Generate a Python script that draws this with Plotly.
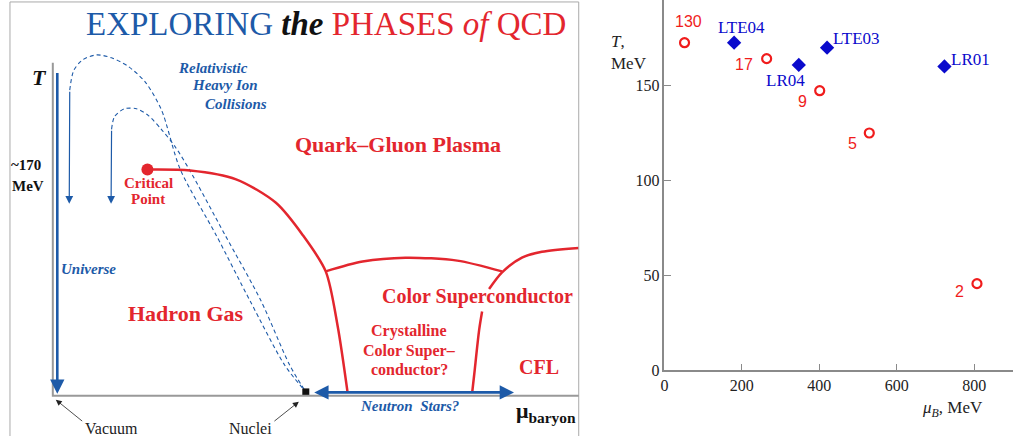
import plotly.graph_objects as go

# ---- right panel data ----
fo_labels = ['130', '17', '9', '5', '2']
fo_mu = [52, 264, 401, 529, 807]
fo_T = [172.7, 164.3, 147.4, 125.1, 45.7]

lat_labels = ['LTE04', 'LR04', 'LTE03', 'LR01']
lat_mu = [180, 347, 420, 723]
lat_T = [172.7, 161.0, 170.1, 160.2]

# ---- left panel: schematic drawn in pixel-like coordinates ----
outer_x = [66, 70, 79, 93, 108, 125, 142, 158, 177, 213, 247, 282, 303]
outer_y = [92, 72, 61, 56, 59, 68, 84, 112, 173, 240, 307, 373, 400]
inner_x = [108, 111, 121, 133, 145, 158, 172, 186, 222, 258, 287, 303]
inner_y = [132, 119, 111, 111, 118, 132, 150, 173, 240, 307, 373, 400]

qgp_x = [144, 187, 233, 273, 300, 323, 335, 345]
qgp_y = [173, 174, 183, 207, 240, 277, 333, 401]
csc_x = [323, 360, 403, 455, 500]
csc_y = [277, 267, 263, 266, 277]
cfl_up_x = [487, 500, 520, 540, 577]
cfl_up_y = [295, 278, 263, 257, 253]
cfl_lo_x = [480, 477, 472, 470]
cfl_lo_y = [318, 337, 383, 401]

crit_pt = (144, 173)
nuclei_pt = (303, 400)

SERIF = 'Liberation Serif'
SANS = 'Liberation Sans'
BLUE_D = '#1d5aa8'
RED_D = '#e3262e'
RED_P = '#f01c1c'
BLUE_P = '#0a0acc'

W, H = 1013, 445

def px(sx):
    return sx / W

def py(sy):
    return 1 - sy / H

fig = go.Figure()

# left schematic curves
for xs, ys in [(outer_x, outer_y), (inner_x, inner_y)]:
    fig.add_trace(go.Scatter(x=xs, y=ys, mode='lines', xaxis='x2', yaxis='y2',
                             line=dict(color=BLUE_D, width=1.1, dash='4px,3px', shape='spline', smoothing=0.8)))
for xs, ys in [(qgp_x, qgp_y), (csc_x, csc_y), (cfl_up_x, cfl_up_y), (cfl_lo_x, cfl_lo_y)]:
    fig.add_trace(go.Scatter(x=xs, y=ys, mode='lines', xaxis='x2', yaxis='y2',
                             line=dict(color=RED_D, width=2.5, shape='spline', smoothing=0.8)))
fig.add_trace(go.Scatter(x=[crit_pt[0]], y=[crit_pt[1]], mode='markers', xaxis='x2', yaxis='y2',
                         marker=dict(color=RED_D, size=12)))
fig.add_trace(go.Scatter(x=[nuclei_pt[0]], y=[nuclei_pt[1]], mode='markers', xaxis='x2', yaxis='y2',
                         marker=dict(color='#111', size=7, symbol='square')))

# right panel points
fig.add_trace(go.Scatter(x=fo_mu, y=fo_T, mode='markers',
                         marker=dict(symbol='circle-open', size=9, color=RED_P, line=dict(width=2.2, color=RED_P))))
fig.add_trace(go.Scatter(x=lat_mu, y=lat_T, mode='markers',
                         marker=dict(symbol='diamond', size=11, color=BLUE_P)))

anns = []
fo_shift = [(4, 21), (-23, -6), (-17, -11), (-17, -10), (-17, -8)]
for lab, x, y, (dx, dy) in zip(fo_labels, fo_mu, fo_T, fo_shift):
    anns.append(dict(x=x, y=y, xref='x', yref='y', text=lab, showarrow=False, xshift=dx, yshift=dy,
                     font=dict(family=SANS, size=16, color=RED_P)))
lat_shift = [(7, 15), (-13, -16), (29, 9), (26, 7)]
for lab, x, y, (dx, dy) in zip(lat_labels, lat_mu, lat_T, lat_shift):
    anns.append(dict(x=x, y=y, xref='x', yref='y', text=lab, showarrow=False, xshift=dx, yshift=dy,
                     font=dict(family=SERIF, size=17, color=BLUE_P)))

anns.append(dict(x=px(607), y=py(54), xref='paper', yref='paper', xanchor='left', yanchor='middle',
                 align='left', text='<i>T</i>,<br>MeV', showarrow=False,
                 font=dict(family=SERIF, size=17, color='#222')))
anns.append(dict(x=px(952), y=py(417), xref='paper', yref='paper', xanchor='center', yanchor='middle',
                 text='<i>μ</i><sub><i>B</i></sub>, MeV', showarrow=False,
                 font=dict(family=SERIF, size=17, color='#222')))

# left panel texts
def txt(x, y, text, size, color, bold=True, italic=False, family=SERIF):
    t = text
    if italic:
        t = '<i>' + t + '</i>'
    if bold:
        t = '<b>' + t + '</b>'
    anns.append(dict(x=x, y=y, xref='x2', yref='y2', text=t, showarrow=False,
                     font=dict(family=family, size=size, color=color)))

title = ("<span style='color:%s'>EXPLORING</span> <b><i>the</i></b> "
         "<span style='color:%s'>PHASES <i>of</i> QCD</span>" % (BLUE_D, RED_D))
anns.append(dict(x=323, y=25, xref='x2', yref='y2', text=title, showarrow=False,
                 font=dict(family=SERIF, size=33, color='#111')))
txt(36, 79, 'T', 22, '#111', italic=True)
txt(22, 168, '~170', 15, '#111')
txt(24, 190, 'MeV', 15, '#111')
txt(210, 69, 'Relativistic', 15, BLUE_D, italic=True)
txt(222, 87, 'Heavy Ion', 15, BLUE_D, italic=True)
txt(233, 106, 'Collisions', 15, BLUE_D, italic=True)
txt(145, 187, 'Critical', 15, RED_D)
txt(145, 203, 'Point', 15, RED_D)
txt(396, 147, 'Quark–Gluon Plasma', 22, RED_D)
txt(85, 275, 'Universe', 15, BLUE_D, italic=True)
txt(183, 320, 'Hadron Gas', 22, RED_D)
txt(475, 303, 'Color Superconductor', 20, RED_D)
txt(407, 338, 'Crystalline', 16, RED_D)
txt(407, 358, 'Color Super–', 16, RED_D)
txt(407, 377, 'conductor?', 16, RED_D)
txt(537, 375, 'CFL', 20, RED_D)
txt(407, 414, 'Neutron  Stars?', 15, BLUE_D, italic=True)
txt(108, 437, 'Vacuum', 16, '#222', bold=False)
txt(247, 437, 'Nuclei', 16, '#222', bold=False)
anns.append(dict(x=544, y=421, xref='x2', yref='y2', text='<b>μ<sub>baryon</sub></b>', showarrow=False,
                 font=dict(family=SERIF, size=22, color='#111')))

# arrows in the schematic
def arrow(x0, y0, x1, y1, color, width, head=2, size=1.0, both=False):
    d = dict(x=x1, y=y1, ax=x0, ay=y0, xref='x2', yref='y2', axref='x2', ayref='y2',
             text='', showarrow=True, arrowcolor=color, arrowwidth=width, arrowhead=head, arrowsize=size)
    if both:
        d.update(arrowside='end+start', startarrowhead=head, startarrowsize=size)
    anns.append(d)

arrow(53.5, 73, 53.5, 402, BLUE_D, 2.6, size=1.1)
arrow(66, 92, 65.5, 208, BLUE_D, 1.2, size=1.3)
arrow(108, 132, 107.5, 208, BLUE_D, 1.2, size=1.3)
arrow(310, 400.5, 512, 400.5, BLUE_D, 2.6, size=1.1, both=True)
arrow(80, 431, 52, 408, '#222', 0.8, head=2, size=1.5)
arrow(270, 431, 296, 410, '#222', 0.8, head=2, size=1.5)

shapes = [
    dict(type='path', xref='x2', yref='y2', path='M6,446 L6,2 L577,2 L577,446',
         line=dict(color='#aaaaaa', width=1)),
    dict(type='path', xref='x2', yref='y2', path='M49,64 L49,404 L577,404',
         line=dict(color='#999999', width=2)),
]

T_TOP = 150 + 87.7 / 1.94

fig.update_layout(
    width=W, height=H,
    margin=dict(l=0, r=0, t=0, b=0),
    paper_bgcolor='white', plot_bgcolor='white',
    showlegend=False,
    annotations=anns,
    shapes=shapes,
    xaxis=dict(domain=[px(663), 1], range=[0, 900], showgrid=False, zeroline=False,
               showline=True, linecolor='#8a8a8a', linewidth=1.5,
               ticks='inside', ticklen=7, tickcolor='#8a8a8a', dtick=200,
               tickfont=dict(family=SERIF, size=16, color='#222')),
    yaxis=dict(domain=[py(378), 1], range=[0, T_TOP], showgrid=False, zeroline=False,
               showline=True, linecolor='#8a8a8a', linewidth=1.5,
               ticks='inside', ticklen=7, tickcolor='#8a8a8a', dtick=50,
               tickfont=dict(family=SERIF, size=16, color='#222')),
    xaxis2=dict(domain=[0, px(600)], range=[0, 600], visible=False, fixedrange=True),
    yaxis2=dict(domain=[0, 1], range=[445, 0], visible=False, fixedrange=True, anchor='x2'),
)

# the page body's default 8px margin would shift the figure; remove it
fig.write_html("out.html", config={'displayModeBar': False},
               post_script="document.body.style.margin='0';document.body.style.overflow='hidden';")
